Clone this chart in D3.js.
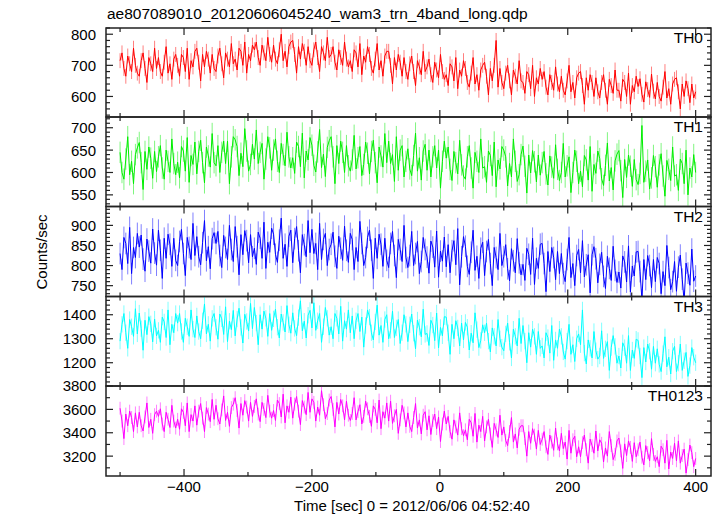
<!DOCTYPE html>
<html><head><meta charset="utf-8">
<script src="https://cdn.jsdelivr.net/npm/d3@7"></script>
<style>body{margin:0;background:#fff}svg{display:block;font-family:"Liberation Sans",Arial,sans-serif}</style>
</head><body>
<script>
const title = "ae807089010_20120606045240_wam3_trn_4band_long.qdp";
const xLabel = "Time [sec] 0 = 2012/06/06 04:52:40";
const yLabel = "Counts/sec";
const tStart = -500, tStep = 3;
const xTicks = [-400, -200, 0, 200, 400];
const bands = ["TH0", "TH1", "TH2", "TH3", "TH0123"];
const colors = ["#ff0000", "#00ee00", "#0000ff", "#00ffff", "#ff00ff"];
const yDomains = [[534, 820], [524, 724], [723, 947], [1103, 1476], [3030, 3800]];
const yTicks = [[600, 700, 800], [550, 600, 650, 700], [750, 800, 850, 900], [1200, 1300, 1400], [3200, 3400, 3600, 3800]];
const yMinorStep = [20, 10, 10, 20, 100];
const errors = [24, 24, 27, 34, 55];

const th0 = [715,740,690,665,730,705,680,755,700,675,
665,715,740,690,645,725,705,680,755,690,
725,680,665,710,760,675,705,655,720,735,
700,665,735,725,680,755,655,715,695,745,
755,710,650,735,695,745,720,675,735,690,
680,730,755,705,660,740,720,695,770,705,
720,685,755,745,700,775,675,735,715,765,
750,775,725,700,765,740,715,790,735,710,
765,720,705,750,800,715,745,695,760,775,
780,735,675,760,720,770,745,700,760,715,
700,750,775,725,680,760,740,715,790,725,
735,760,710,685,750,725,700,775,720,695,
715,680,750,740,695,770,670,730,710,760,
735,690,675,720,770,685,715,665,730,745,
745,700,640,725,685,735,710,665,725,680,
655,705,730,680,635,715,695,670,745,680,
695,720,670,645,710,685,660,735,680,655,
670,635,705,695,650,725,625,685,665,715,
690,645,630,675,725,640,670,620,685,700,
710,665,605,690,650,700,780,630,690,645,
625,675,700,650,605,685,665,640,715,650,
645,610,680,670,625,700,600,660,640,690,
655,680,630,605,670,645,620,695,640,615,
665,620,605,650,700,615,645,595,660,675,
680,635,575,660,620,670,645,600,660,615,
595,645,670,620,575,655,635,610,685,620,
620,585,655,645,600,675,575,635,615,665,
632,657,607,582,647,622,597,672,617,592,
645,600,585,630,680,595,625,575,640,655,
660,615,560,640,600,650,625,580,640,595,
615];
const th1 = [645,600,585,630,680,595,625,575,640,655,
667,622,562,647,607,657,632,587,647,602,
635,660,610,585,650,625,600,675,620,595,
623,588,658,648,603,678,578,638,618,668,
597,647,672,622,577,657,637,612,687,622,
615,660,600,645,670,620,670,575,635,680,
673,658,593,643,613,698,648,603,618,663,
630,695,620,645,665,585,630,680,655,605,
650,675,625,600,665,640,615,690,635,610,
633,598,668,658,613,688,588,648,628,678,
661,616,601,646,696,611,641,591,656,671,
680,635,575,660,620,670,645,600,660,615,
603,628,683,608,633,658,593,618,668,643,
597,647,672,622,577,657,637,612,687,622,
670,620,640,580,680,605,650,660,590,625,
653,608,593,638,688,603,633,583,648,663,
605,650,590,635,660,610,650,565,625,670,
632,657,607,582,647,622,597,672,617,592,
585,635,660,610,565,645,625,600,675,610,
613,578,648,638,593,668,568,628,608,658,
650,635,570,620,590,675,625,580,595,640,
659,614,554,639,599,649,624,579,639,594,
622,647,597,572,637,612,587,662,607,582,
600,665,590,615,635,555,600,650,625,575,
603,568,638,628,583,658,558,618,598,648,
631,586,571,616,666,581,611,561,626,641,
649,604,544,629,589,639,614,569,629,584,
573,598,705,578,603,628,563,588,638,613,
567,617,642,592,547,627,607,582,657,592,
595,560,630,620,575,650,550,610,590,640,
600];
const th2 = [830,790,870,855,805,895,780,845,820,880,
846,876,816,786,866,836,806,891,831,801,
888,838,768,868,818,878,853,798,868,813,
800,860,890,830,775,870,845,815,905,825,
872,822,802,857,912,812,847,792,867,882,
855,885,825,795,875,845,815,900,840,810,
897,847,777,877,827,887,862,807,877,822,
843,803,883,868,818,908,793,858,833,893,
878,828,808,863,918,818,853,798,873,888,
807,867,897,837,782,877,852,822,912,832,
890,830,855,790,905,815,865,880,800,840,
853,883,823,793,873,843,813,898,838,808,
880,865,790,845,810,910,855,800,820,870,
888,838,768,868,818,878,853,798,868,813,
795,855,885,825,770,865,840,810,900,820,
795,825,885,800,830,860,780,810,870,840,
821,781,861,846,796,886,771,836,811,871,
797,852,782,837,862,802,892,752,822,872,
848,798,778,833,888,788,823,768,843,858,
775,835,865,805,750,845,820,790,880,800,
822,852,792,762,842,812,782,867,807,777,
803,763,843,828,778,868,753,818,793,853,
855,805,735,835,785,845,820,765,835,780,
830,780,760,815,870,770,805,750,825,840,
782,862,772,802,827,732,827,847,817,757,
803,833,773,743,823,793,763,848,788,758,
784,744,824,809,759,849,734,799,774,834,
835,785,715,815,765,825,800,745,815,760,
820,805,730,785,750,850,795,740,760,810,
736,796,826,766,711,806,781,751,841,761,
774];
const th3 = [1290,1360,1405,1325,1260,1380,1350,1310,1425,1320,
1407,1342,1252,1377,1317,1392,1362,1287,1382,1312,
1335,1285,1390,1370,1305,1420,1275,1360,1325,1405,
1365,1405,1330,1285,1385,1350,1310,1420,1340,1305,
1395,1330,1300,1375,1445,1320,1360,1290,1385,1405,
1348,1298,1403,1383,1318,1433,1288,1373,1338,1418,
1312,1382,1427,1347,1282,1402,1372,1332,1447,1342,
1430,1365,1275,1400,1340,1415,1385,1310,1405,1335,
1383,1423,1348,1303,1403,1368,1328,1438,1358,1323,
1408,1343,1313,1388,1458,1333,1373,1303,1398,1418,
1345,1450,1335,1375,1405,1285,1350,1430,1385,1315,
1350,1300,1405,1385,1320,1435,1290,1375,1340,1420,
1325,1395,1300,1375,1405,1330,1390,1265,1355,1420,
1390,1325,1295,1370,1440,1315,1355,1285,1380,1400,
1300,1335,1415,1305,1345,1380,1280,1325,1400,1360,
1288,1358,1403,1323,1258,1378,1348,1308,1423,1318,
1322,1272,1377,1357,1292,1407,1262,1347,1312,1392,
1390,1325,1235,1360,1300,1375,1345,1270,1365,1295,
1368,1348,1253,1323,1283,1408,1338,1263,1293,1358,
1325,1365,1290,1245,1345,1310,1270,1380,1300,1265,
1250,1320,1365,1285,1220,1340,1310,1270,1385,1280,
1355,1290,1200,1325,1265,1340,1310,1235,1330,1260,
1270,1220,1325,1305,1240,1355,1210,1295,1260,1340,
1310,1245,1215,1290,1360,1235,1275,1205,1300,1320,
1275,1420,1240,1195,1295,1260,1220,1330,1250,1215,
1228,1333,1218,1258,1288,1168,1263,1313,1268,1198,
1228,1178,1283,1263,1198,1313,1168,1253,1218,1298,
1293,1228,1138,1263,1203,1278,1248,1173,1268,1198,
1258,1193,1163,1238,1308,1183,1223,1153,1248,1268,
1163,1198,1278,1168,1208,1243,1143,1188,1263,1223,
1200];
const th0123 = [3610,3500,3350,3560,3460,3585,3530,3410,3570,3450,
3575,3460,3415,3535,3655,3445,3515,3395,3555,3585,
3540,3605,3475,3410,3575,3515,3445,3635,3500,3440,
3515,3430,3605,3575,3460,3655,3410,3555,3500,3630,
3465,3585,3650,3525,3410,3615,3560,3495,3685,3515,
3635,3520,3475,3595,3715,3505,3575,3455,3615,3645,
3700,3590,3440,3650,3550,3675,3620,3500,3660,3540,
3625,3690,3560,3495,3660,3600,3530,3720,3585,3525,
3590,3505,3680,3650,3535,3730,3485,3630,3575,3705,
3525,3645,3710,3585,3470,3675,3620,3555,3745,3575,
3690,3660,3500,3620,3550,3760,3640,3520,3565,3680,
3710,3600,3450,3660,3560,3685,3630,3510,3670,3550,
3505,3565,3700,3510,3580,3640,3475,3540,3670,3605,
3540,3455,3630,3600,3485,3680,3435,3580,3525,3655,
3500,3670,3480,3545,3600,3395,3510,3635,3570,3450,
3570,3455,3410,3530,3650,3440,3510,3390,3550,3580,
3425,3545,3385,3505,3560,3435,3535,3325,3475,3585,
3475,3540,3410,3345,3510,3450,3380,3570,3435,3375,
3425,3340,3515,3485,3370,3565,3320,3465,3410,3540,
3330,3450,3515,3390,3275,3480,3425,3360,3550,3380,
3450,3335,3290,3410,3530,3320,3390,3270,3430,3460,
3460,3350,3200,3410,3310,3435,3380,3260,3420,3300,
3345,3410,3280,3215,3380,3320,3250,3440,3305,3245,
3395,3265,3320,3175,3420,3225,3340,3370,3195,3280,
3195,3315,3380,3255,3140,3345,3290,3225,3415,3245,
3340,3310,3150,3270,3200,3410,3290,3170,3215,3330,
3355,3245,3095,3305,3205,3330,3275,3155,3315,3195,
3255,3320,3190,3125,3290,3230,3160,3350,3215,3155,
3195,3110,3285,3255,3140,3335,3090,3235,3180,3310,
3160,3330,3140,3205,3260,3055,3170,3295,3230,3110,
3180];
const series = [th0, th1, th2, th3, th0123];

const W = 723, H = 516;
const left = 106, right = 711;
const panelEdges = [28, 117, 206.5, 296.5, 386, 476];
const svg = d3.select("body").append("svg").attr("width", W).attr("height", H);
const x = d3.scaleLinear().domain([-522, 424]).range([left, right]);
const axisColor = "#222";
const font = 15;

svg.append("text").attr("x", 107).attr("y", 19).attr("font-size", 15.5).attr("fill", "#000").text(title);

series.forEach((vals, p) => {
  const top = panelEdges[p], bot = panelEdges[p + 1];
  const y = d3.scaleLinear().domain(yDomains[p]).range([bot, top]);
  const g = svg.append("g");
  const cid = "clip" + p;
  svg.append("clipPath").attr("id", cid).append("rect")
    .attr("x", left).attr("y", top).attr("width", right - left).attr("height", bot - top);
  const data = vals.map((v, i) => ({t: tStart + i * tStep, v}));
  const dg = g.append("g").attr("clip-path", `url(#${cid})`);
  dg.selectAll("line.err").data(data).enter().append("line")
    .attr("x1", d => x(d.t)).attr("x2", d => x(d.t))
    .attr("y1", d => y(d.v - errors[p])).attr("y2", d => y(d.v + errors[p]))
    .attr("stroke", colors[p]).attr("stroke-opacity", 0.5).attr("stroke-width", 1);
  dg.append("path").datum(data)
    .attr("d", d3.line().x(d => x(d.t)).y(d => y(d.v)))
    .attr("fill", "none").attr("stroke", colors[p]).attr("stroke-width", 1);

  g.append("rect").attr("x", left).attr("y", top).attr("width", right - left).attr("height", bot - top)
    .attr("fill", "none").attr("stroke", axisColor).attr("stroke-width", 1.5);

  const xt = d3.range(-500, 401, 100);
  xt.forEach(t => {
    const len = (t % 200 === 0) ? 7 : 4;
    g.append("line").attr("x1", x(t)).attr("x2", x(t)).attr("y1", bot).attr("y2", bot - len)
      .attr("stroke", axisColor).attr("stroke-width", 1.2);
    g.append("line").attr("x1", x(t)).attr("x2", x(t)).attr("y1", top).attr("y2", top + len)
      .attr("stroke", axisColor).attr("stroke-width", 1.2);
  });
  const [d0, d1] = yDomains[p];
  const st = yMinorStep[p];
  const minors = d3.range(Math.ceil(d0 / st) * st, d1 + 0.001, st);
  minors.forEach(v => {
    const major = yTicks[p].includes(v);
    const len = major ? 7 : 4;
    const yy = y(v);
    g.append("line").attr("x1", left).attr("x2", left + len).attr("y1", yy).attr("y2", yy)
      .attr("stroke", axisColor).attr("stroke-width", 1.2);
    g.append("line").attr("x1", right).attr("x2", right - len).attr("y1", yy).attr("y2", yy)
      .attr("stroke", axisColor).attr("stroke-width", 1.2);
  });
  yTicks[p].forEach(v => {
    g.append("text").attr("x", left - 10).attr("y", y(v)).attr("dy", "0.36em")
      .attr("text-anchor", "end").attr("font-size", font).attr("fill", "#000").text(v);
  });
  g.append("text").attr("x", 703).attr("y", top + 15).attr("text-anchor", "end")
    .attr("font-size", 15.5).attr("fill", "#000").text(bands[p]);
});

xTicks.forEach(t => {
  svg.append("text").attr("x", x(t)).attr("y", 492).attr("text-anchor", "middle")
    .attr("font-size", font).attr("fill", "#000").text(t < 0 ? "\u2212" + Math.abs(t) : t);
});
svg.append("text").attr("x", 412).attr("y", 511).attr("text-anchor", "middle")
  .attr("font-size", 15).attr("fill", "#000").text(xLabel);
svg.append("text").attr("transform", "translate(47,252) rotate(-90)").attr("text-anchor", "middle")
  .attr("font-size", 15).attr("fill", "#000").text(yLabel);
</script>
</body></html>
